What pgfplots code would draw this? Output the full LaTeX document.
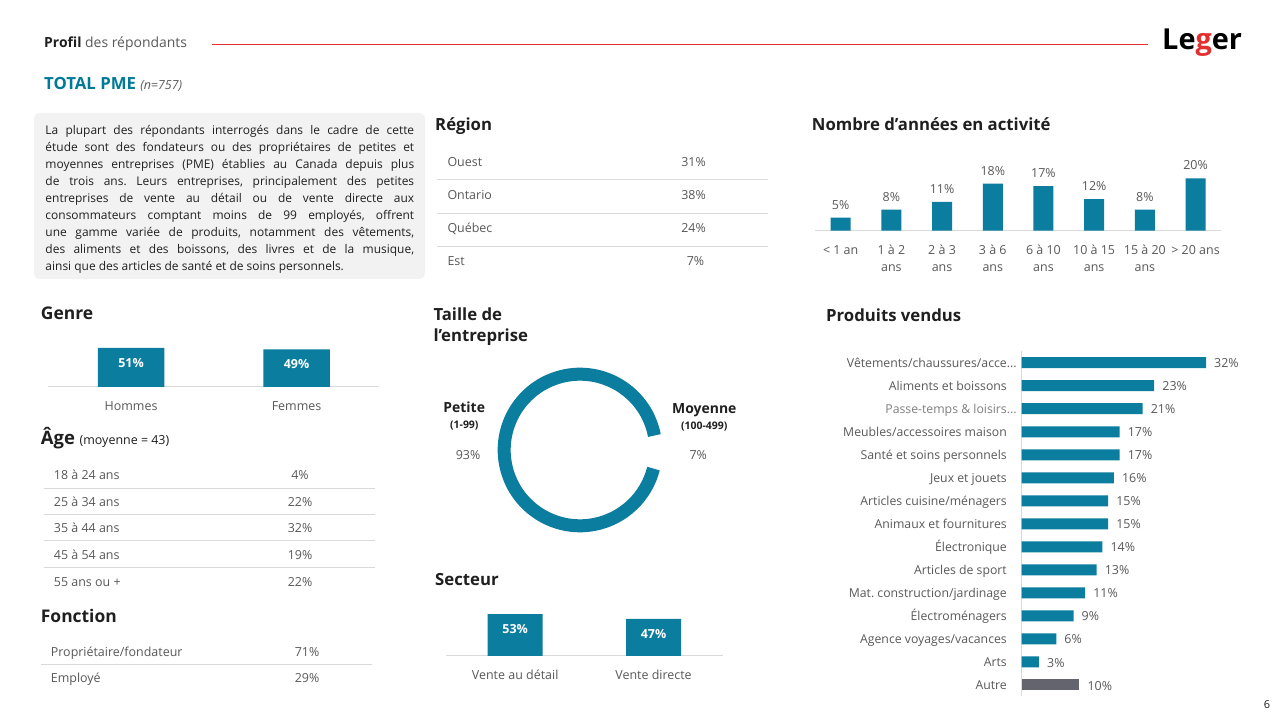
\documentclass[border=0pt]{standalone}
\usepackage{fontspec}
\setmainfont{Open Sans}
\usepackage{pgfplots}
\pgfplotsset{compat=1.18}
\definecolor{legteal}{RGB}{11,125,159}
\definecolor{titleteal}{RGB}{0,122,153}
\definecolor{txtgray}{HTML}{595959}
\definecolor{ltgray}{HTML}{7F7F7F}
\definecolor{dark}{HTML}{1F1F1F}
\definecolor{linegray}{HTML}{D9D9D9}
\definecolor{boxgray}{HTML}{F2F2F2}
\definecolor{autregray}{RGB}{99,100,110}
\definecolor{legred}{RGB}{227,48,47}
\newcommand{\fs}[1]{\fontsize{#1}{#1}\selectfont}
\frenchspacing
\pgfplotsset{
 vb/.style={ybar, bar shift=0pt, scale only axis, clip=false, anchor=south west,
  axis x line*=bottom, hide y axis, axis line style={draw=linegray, line width=1bp, -},
  xtick=data, major tick length=0pt, ymin=0, enlargelimits=false,
  xticklabel style={font=\fontsize{12.5}{16.6}\selectfont, text=txtgray, align=center, anchor=north, inner sep=0pt},
  point meta=explicit symbolic, nodes near coords,
 },
}
\begin{document}
\begin{tikzpicture}[x=1bp,y=1bp]
\fill[white] (0,0) rectangle (1280,720);
\path[use as bounding box] (0,0) rectangle (1280,720);
\coordinate (ANN) at (815.3,720-230.7);
\coordinate (GEN) at (48.3,720-387);
\coordinate (SEC) at (446,720-656);
\coordinate (DON) at (580,720-450);
\coordinate (PRO) at (1021.7,720-696.5);

% ---------- header ----------
\node[anchor=base west, inner sep=0, font=\fs{14}, text=dark] at (44,720-47.2) {\textbf{Profil} \textcolor{txtgray}{des répondants}};
\draw[legred, line width=1.5bp] (212,720-44.3) -- (1148,720-44.3);
\node[anchor=base west, inner sep=0, font=\fs{29}\bfseries] at (1162,720-49.5) {Le\textcolor{legred}{g}er};
\node[anchor=base west, inner sep=0, font=\fs{16.8}\bfseries, text=titleteal] at (44,720-89.2) {TOTAL PME \textcolor{txtgray}{\fs{12.5}\mdseries\itshape (n=757)}};
\node[anchor=base, inner sep=0, font=\fs{11}, text=dark] at (1267,720-709) {6};

% ---------- text box ----------
\fill[boxgray, rounded corners=6bp] (34,720-113) rectangle (425,720-279);
\begin{scope}[every node/.style={anchor=base west, inner sep=0, font=\fs{12}, text=dark}]
\node at (45.3,720-134.1) {\makebox[368.7bp][s]{La plupart des répondants interrogés dans le cadre de cette}};
\node at (45.3,720-151.1) {\makebox[368.7bp][s]{étude sont des fondateurs ou des propriétaires de petites et}};
\node at (45.3,720-168.1) {\makebox[368.7bp][s]{moyennes entreprises (PME) établies au Canada depuis plus}};
\node at (45.3,720-185.1) {\makebox[368.7bp][s]{de trois ans. Leurs entreprises, principalement des petites}};
\node at (45.3,720-202.1) {\makebox[368.7bp][s]{entreprises de vente au détail ou de vente directe aux}};
\node at (45.3,720-219.1) {\makebox[368.7bp][s]{consommateurs comptant moins de 99 employés, offrent}};
\node at (45.3,720-236.1) {\makebox[368.7bp][s]{une gamme variée de produits, notamment des vêtements,}};
\node at (45.3,720-253.1) {\makebox[368.7bp][s]{des aliments et des boissons, des livres et de la musique,}};
\node at (45.3,720-270.1) {ainsi que des articles de santé et de soins personnels.};
\end{scope}

% ---------- titles ----------
\begin{scope}[every node/.style={anchor=base west, inner sep=0, font=\fs{16.8}\bfseries, text=dark}]
\node at (435,720-131) {Région};
\node at (811.7,720-131) {Nombre d’années en activité};
\node at (433.3,720-320.3) {Taille de};
\node at (433.3,720-341.7) {l’entreprise};
\node at (826,720-321.3) {Produits vendus};
\node at (435,720-586) {Secteur};
\node[font=\fs{17.5}\bfseries] at (40.7,720-319.5) {Genre};
\node[font=\fs{17.5}\bfseries] at (40.7,720-623) {Fonction};
\node[font=\fs{18.5}\bfseries] at (40.7,720-445) {Âge \fs{12.5}\mdseries\textcolor{dark}{(moyenne = 43)}};
\end{scope}

% ---------- tables ----------
\begin{scope}[every node/.style={inner sep=0, font=\fs{12.5}, text=txtgray}]
% Region
\foreach \y in {180,213.3,246.7} \draw[linegray, line width=1bp] (437.3,720-\y) -- (768.3,720-\y);
\node[anchor=base west] at (447.3,720-166.5) {Ouest};
\node[anchor=base west] at (447.3,720-199.5) {Ontario};
\node[anchor=base west] at (447.3,720-232.5) {Québec};
\node[anchor=base west] at (447.3,720-265.2) {Est};
\node[anchor=base] at (693.5,720-166.5) {31\%};
\node[anchor=base] at (693.5,720-199.5) {38\%};
\node[anchor=base] at (693.5,720-232.5) {24\%};
\node[anchor=base] at (695.5,720-265.2) {7\%};
% Age
\foreach \y in {488.3,514.7,541,567.3} \draw[linegray, line width=1bp] (44,720-\y) -- (375,720-\y);
\node[anchor=base west] at (53.7,720-479.8) {18 à 24 ans};
\node[anchor=base west] at (53.7,720-506.8) {25 à 34 ans};
\node[anchor=base west] at (53.7,720-532.8) {35 à 44 ans};
\node[anchor=base west] at (53.7,720-559.8) {45 à 54 ans};
\node[anchor=base west] at (53.7,720-586.2) {55 ans ou +};
\node[anchor=base] at (300,720-479.8) {4\%};
\node[anchor=base] at (300,720-506.8) {22\%};
\node[anchor=base] at (300,720-532.8) {32\%};
\node[anchor=base] at (300,720-559.8) {19\%};
\node[anchor=base] at (300,720-586.2) {22\%};
% Fonction
\draw[linegray, line width=1bp] (41,720-665) -- (371.7,720-665);
\node[anchor=base west] at (50.7,720-656.8) {Propriétaire/fondateur};
\node[anchor=base west] at (50.7,720-682.8) {Employé};
\node[anchor=base] at (307,720-656.8) {71\%};
\node[anchor=base] at (307,720-682.8) {29\%};
\end{scope}

% ---------- Nombre d'années ----------
\begin{axis}[vb, at={(ANN)}, width=405.6bp, height=65.5bp,
  xmin=-0.5, xmax=7.5, ymax=25, bar width=20bp,
  xticklabels={{< 1 an},{1 à 2\\ans},{2 à 3\\ans},{3 à 6\\ans},{6 à 10\\ans},{10 à 15\\ans},{15 à 20\\ans},{> 20 ans}},
  xticklabel style={yshift=-14.3bp},
  every node near coord/.append style={font=\fs{12.5}, text=txtgray, anchor=base, inner sep=0pt, yshift=8.5bp}]
\addplot[fill=legteal, draw=none] coordinates {(0,5) [5\%] (1,8) [8\%] (2,11) [11\%] (3,18) [18\%] (4,17) [17\%] (5,12) [12\%] (6,8) [8\%] (7,20) [20\%]};
\end{axis}

% ---------- Genre ----------
\begin{axis}[vb, at={(GEN)}, width=331bp, height=46bp,
  xmin=-0.5, xmax=1.5, ymax=60, bar width=66.5bp,
  xticklabels={Hommes,Femmes}, xticklabel style={yshift=-14bp},
  every node near coord/.append style={font=\fs{12.5}\bfseries, text=white, anchor=base, inner sep=0pt, yshift=-19.3bp}]
\addplot[fill=legteal, draw=none] coordinates {(0,51) [51\%] (1,49) [49\%]};
\end{axis}

% ---------- Secteur ----------
\begin{axis}[vb, at={(SEC)}, width=276.7bp, height=47.4bp,
  xmin=-0.5, xmax=1.5, ymax=60, bar width=55bp,
  xticklabels={Vente au détail,Vente directe}, xticklabel style={yshift=-13.6bp},
  every node near coord/.append style={font=\fs{12.5}\bfseries, text=white, anchor=base, inner sep=0pt, yshift=-19.8bp}]
\addplot[fill=legteal, draw=none] coordinates {(0,53) [53\%] (1,47) [47\%]};
\end{axis}

% ---------- Taille (donut) ----------
\begin{axis}[hide axis, scale only axis, clip=false, at={(DON)}, anchor=center,
  width=164.6bp, height=164.6bp, xmin=-1, xmax=1, ymin=-1, ymax=1]
\draw[legteal, line width=13bp] (axis cs:0.904,0.1757) arc[start angle=11, end angle={11+93*3.6}, radius=75.8bp];
\end{axis}
\begin{scope}[every node/.style={anchor=base, inner sep=0, text=dark}]
\node[font=\fs{14}\bfseries] at (464.2,720-412.3) {Petite};
\node[font=\fs{10.5}\bfseries] at (464.3,720-428.5) {(1-99)};
\node[font=\fs{12.5}, text=txtgray] at (468,720-459.2) {93\%};
\node[font=\fs{14}\bfseries] at (704.3,720-414) {Moyenne};
\node[font=\fs{10.5}\bfseries] at (704.3,720-429.2) {(100-499)};
\node[font=\fs{12.5}, text=txtgray] at (698.3,720-459.8) {7\%};
\end{scope}

% ---------- Produits vendus ----------
\begin{axis}[xbar, bar shift=0pt, scale only axis, clip=false, anchor=south west,
  at={(PRO)}, width=201.6bp, height=345.3bp,
  xmin=0, xmax=35, ymin=-0.5, ymax=14.5, enlargelimits=false,
  axis y line*=left, hide x axis, axis line style={draw=linegray, line width=1bp, -},
  ytick={0,...,14}, major tick length=0pt,
  yticklabels={Autre,Arts,Agence voyages/vacances,Électroménagers,Mat. construction/jardinage,Articles de sport,Électronique,Animaux et fournitures,Articles cuisine/ménagers,Jeux et jouets,Santé et soins personnels,Meubles/accessoires maison,{\textcolor{ltgray}{Passe-temps \& loisirs}\rlap{\textcolor{ltgray}{...}}},Aliments et boissons,{Vêtements/chaussures/acce\rlap{...}}},
  yticklabel style={font=\fs{12.3}, text=txtgray, anchor=base east, inner sep=0pt, xshift=-14.7bp, yshift=-4.4bp},
  bar width=11bp, point meta=explicit symbolic, nodes near coords,
  every node near coord/.append style={font=\fs{12.5}, text=txtgray, anchor=west, inner sep=0pt, xshift=8bp, yshift=-0.6bp}]
\addplot[fill=legteal, draw=none] coordinates {(32,14) [32\%] (23,13) [23\%] (21,12) [21\%] (17,11) [17\%] (17,10) [17\%] (16,9) [16\%] (15,8) [15\%] (15,7) [15\%] (14,6) [14\%] (13,5) [13\%] (11,4) [11\%] (9,3) [9\%] (6,2) [6\%] (3,1) [3\%]};
\addplot[fill=autregray, draw=none] coordinates {(10,0) [10\%]};
\end{axis}
\end{tikzpicture}
\end{document}
